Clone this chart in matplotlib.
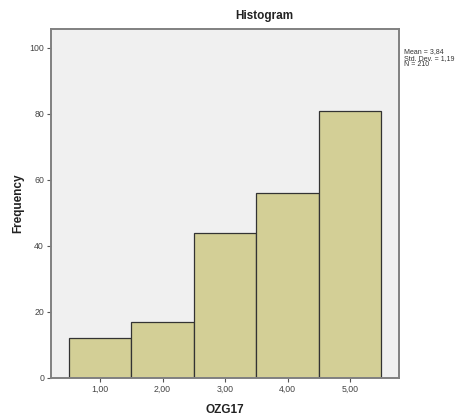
import matplotlib
matplotlib.use("Agg")
import matplotlib.pyplot as plt

categories = [1, 2, 3, 4, 5]
frequencies = [12, 17, 44, 56, 81]
xtick_labels = ["1,00", "2,00", "3,00", "4,00", "5,00"]
yticks = [0, 20, 40, 60, 80, 100]
stats_text = "Mean = 3,84\nStd. Dev. = 1,19\nN = 210"

plt.rcParams['font.family'] = ['Liberation Sans', 'DejaVu Sans']

fig = plt.figure(figsize=(4.74, 4.19), dpi=100)
fig.patch.set_facecolor('white')
ax = fig.add_axes([0.1076, 0.0979, 0.7342, 0.8329])
ax.set_facecolor('#F0F0F0')

ax.bar(categories, frequencies, width=1.0, color='#D3CF96', edgecolor='#333333', linewidth=0.9)

ax.set_xlim(0.216, 5.784)
ax.set_ylim(0, 105.7)
ax.set_xticks(categories)
ax.set_xticklabels(xtick_labels)
ax.set_yticks(yticks)
ax.tick_params(axis='both', labelsize=6.3, length=3, width=0.8, color='#555555', labelcolor='#444444', direction='out', pad=2)

for s in ax.spines.values():
    s.set_color('#808080')
    s.set_linewidth(1.4)

fig.text(264/474, 1 - 16/419, "Histogram", fontsize=8.5, fontweight='bold', ha='center', va='center', color='#222222')
ax.set_xlabel("OZG17", fontsize=8.5, fontweight='bold', labelpad=7, color='#222222')
ax.set_ylabel("Frequency", fontsize=8.5, fontweight='bold', labelpad=4, color='#222222')

fig.text(404/474, 1 - 48/419, stats_text, fontsize=5, va='top', ha='left', color='#333333', linespacing=0.95)

fig.savefig("out.png", dpi=100)
